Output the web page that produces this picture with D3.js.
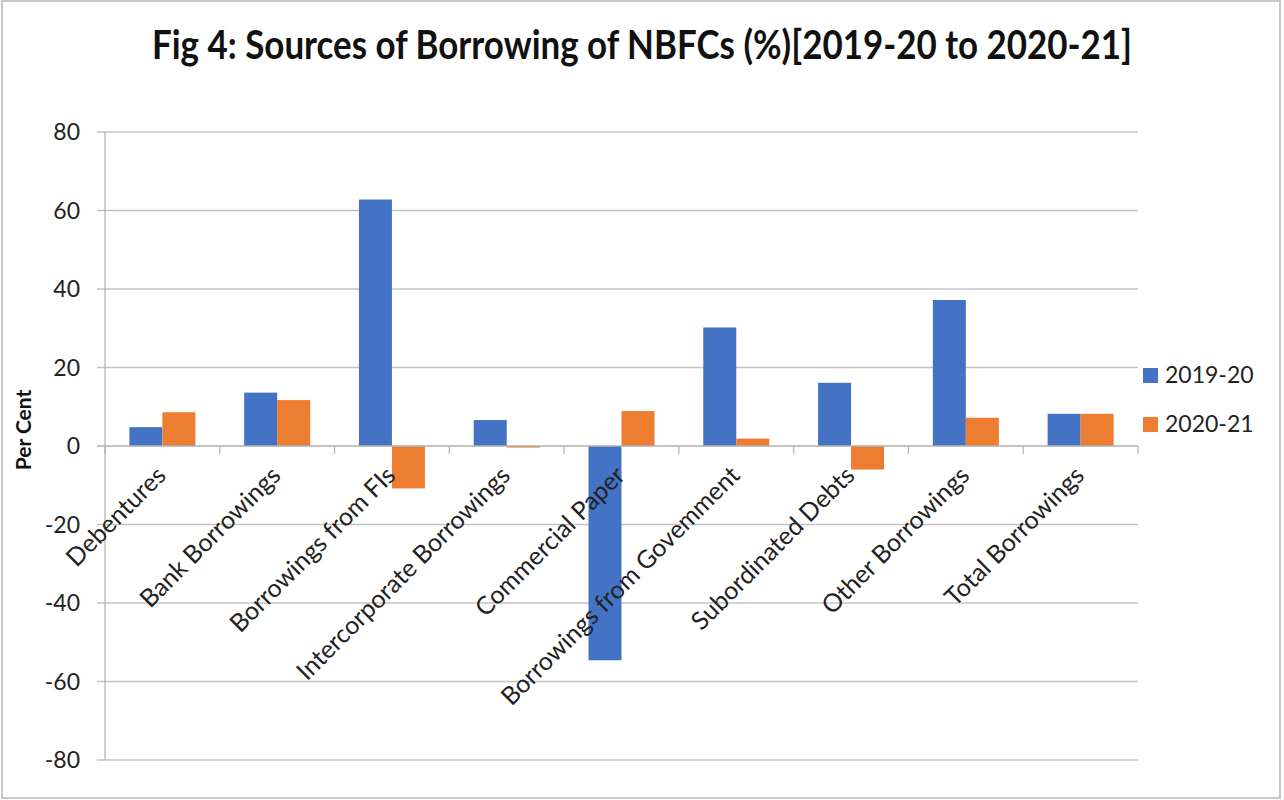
<!DOCTYPE html>
<html>
<head>
<meta charset="utf-8">
<script src="https://cdn.jsdelivr.net/npm/d3@7"></script>
<style>
	body { margin: 0; background: #fff; }
	svg { display: block; }
	.label { font-family: Lato, "Open Sans", sans-serif; fill: #222; }
</style>
</head>
<body>
<svg id="chart"></svg>
<script>
let categories = ["Debentures", "Bank Borrowings", "Borrowings from FIs", "Intercorporate Borrowings",
	"Commercial Paper", "Borrowings from Govemment", "Subordinated Debts", "Other Borrowings", "Total Borrowings"];
let series_names = ["2019-20", "2020-21"];
let values_2019 = [4.8, 13.6, 62.8, 6.6, -54.6, 30.2, 16.1, 37.2, 8.2];
let values_2020 = [8.6, 11.7, -10.8, -0.4, 8.9, 1.9, -6.0, 7.2, 8.2];
let y_ticks = [-80, -60, -40, -20, 0, 20, 40, 60, 80];
let colors = ["#4472C4", "#ED7D31"];

let total_w = 1284;
let total_h = 800;
let margin = {left: 105, right: 146, top: 132, bottom: 40};
let width = total_w - margin.left - margin.right;
let height = 760 - margin.top;

let svg = d3.select("#chart")
	.attr("width", total_w)
	.attr("height", total_h);

// outer frame
svg.append("rect")
	.attr("x", 2).attr("y", 1)
	.attr("width", 1278).attr("height", 797)
	.attr("fill", "none")
	.attr("stroke", "#c8c8c8")
	.attr("stroke-width", 2);

// title
svg.append("text")
	.attr("class", "label")
	.attr("x", 642)
	.attr("y", 59)
	.attr("text-anchor", "middle")
	.attr("textLength", 980)
	.attr("lengthAdjust", "spacingAndGlyphs")
	.style("font-size", "40px")
	.style("font-weight", "bold")
	.style("fill", "#111")
	.text("Fig 4: Sources of Borrowing of NBFCs (%)[2019-20 to 2020-21]");

let group = svg.append("g")
	.attr("transform", "translate(" + margin.left + "," + margin.top + ")");

let x0 = d3.scaleBand()
	.domain(categories)
	.range([0, width])
	.paddingInner(0.425)
	.paddingOuter(0.2125);

let x1 = d3.scaleBand()
	.domain(series_names)
	.range([0, x0.bandwidth()]);

let y = d3.scaleLinear()
	.domain([-80, 80])
	.range([height, 0]);

// gridlines
group.selectAll(".grid").data(y_ticks.filter(d => d !== 0)).enter()
	.append("line")
	.attr("x1", -8).attr("x2", width)
	.attr("y1", d => y(d)).attr("y2", d => y(d))
	.attr("stroke", "#c4c4c4")
	.attr("stroke-width", 1.5);

// y axis line
group.append("line")
	.attr("x1", 0).attr("x2", 0)
	.attr("y1", 0).attr("y2", height)
	.attr("stroke", "#b0b0b0")
	.attr("stroke-width", 1.2);

// y tick labels
group.selectAll(".ytick").data(y_ticks).enter()
	.append("text")
	.attr("class", "label")
	.attr("x", -25)
	.attr("y", d => y(d))
	.attr("dy", "0.35em")
	.attr("text-anchor", "end")
	.style("font-size", "23px")
	.text(d => d);

// y axis title
svg.append("text")
	.attr("class", "label")
	.attr("transform", "translate(31,430) rotate(-90)")
	.attr("text-anchor", "middle")
	.style("font-size", "21px")
	.style("font-weight", "bold")
	.style("fill", "#111")
	.text("Per Cent");

// bars
let data = categories.map((c, i) => ({cat: c, vals: [values_2019[i], values_2020[i]]}));
let cat_groups = group.selectAll(".cat").data(data).enter()
	.append("g")
	.attr("transform", d => "translate(" + x0(d.cat) + ",0)");

cat_groups.selectAll("rect")
	.data(d => d.vals.map((v, j) => ({name: series_names[j], value: v, idx: j})))
	.enter().append("rect")
	.attr("x", d => x1(d.name))
	.attr("width", x1.bandwidth())
	.attr("y", d => y(Math.max(0, d.value)))
	.attr("height", d => Math.abs(y(d.value) - y(0)))
	.attr("fill", d => colors[d.idx]);

// zero axis line with category ticks
group.append("line")
	.attr("x1", -8).attr("x2", width)
	.attr("y1", y(0)).attr("y2", y(0))
	.attr("stroke", "#b0b0b0")
	.attr("stroke-width", 1.5);

let step = x0.step();
group.selectAll(".xtick").data(d3.range(categories.length + 1)).enter()
	.append("line")
	.attr("x1", d => d * step).attr("x2", d => d * step)
	.attr("y1", y(0)).attr("y2", y(0) + 8)
	.attr("stroke", "#b0b0b0")
	.attr("stroke-width", 1.2);

// category labels
group.selectAll(".xlabel").data(categories).enter()
	.append("text")
	.attr("class", "label")
	.attr("text-anchor", "end")
	.attr("transform", d => "translate(" + (x0(d) + x0.bandwidth() / 2 + 5) + "," + (y(0) + 31) + ") rotate(-45)")
	.style("font-size", "25px")
	.text(d => d);

// legend
let legend = svg.append("g")
	.attr("transform", "translate(1143,368)");

let items = legend.selectAll(".item").data(series_names).enter()
	.append("g")
	.attr("transform", (d, i) => "translate(0," + (i * 49) + ")");

items.append("rect")
	.attr("width", 15).attr("height", 15)
	.attr("fill", (d, i) => colors[i]);

items.append("text")
	.attr("class", "label")
	.attr("x", 22)
	.attr("y", 15)
	.style("font-size", "23px")
	.text(d => d);
</script>
</body>
</html>
